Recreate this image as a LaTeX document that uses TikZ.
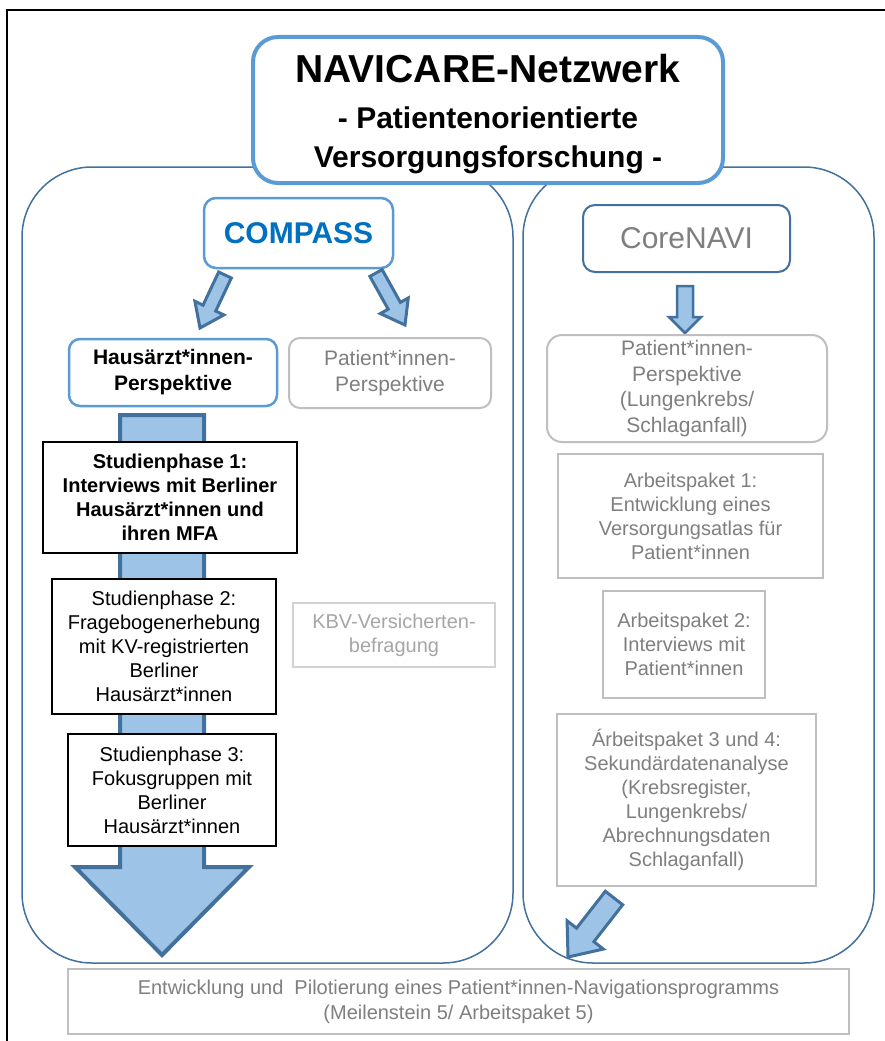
\documentclass[tikz,border=0pt]{standalone}
\usepackage{fontspec}
\setmainfont{Liberation Sans}
\usetikzlibrary{calc}
\definecolor{tblue}{HTML}{5B9BD5}
\definecolor{dblue}{HTML}{41719C}
\definecolor{lblue}{HTML}{9DC3E6}
\definecolor{cblue}{HTML}{0070C0}
\definecolor{lgray}{HTML}{BFBFBF}
\definecolor{tgray}{HTML}{7F7F7F}
\definecolor{kgray}{HTML}{A6A6A6}
\newcommand{\blockarr}[6][2.5pt]{%
  \coordinate (#2-h) at ($(#3)!#6!(#2)$);
  \draw[line width=#1, draw=dblue, fill=lblue, line join=miter]
    ($(#2)!#4!90:(#3)$) -- ($(#2-h)!#4!-90:(#2)$) -- ($(#2-h)!#5!-90:(#2)$) -- (#3)
    -- ($(#2-h)!#5!90:(#2)$) -- ($(#2-h)!#4!90:(#2)$) -- ($(#2)!#4!-90:(#3)$) -- cycle;}
\tikzset{
  box/.style={draw, inner sep=0pt, align=center, fill=white},
  container/.style={box, draw=dblue, line width=1.5pt, rounded corners=70pt, fill=none},
  bluebox/.style={box, draw=tblue, line width=2.5pt, rounded corners=11pt},
  graybox/.style={box, draw=lgray, line width=2pt, text=tgray},
  blackbox/.style={box, draw=black, line width=2pt},
  txt20/.style={font=\fontsize{20}{24}\selectfont},
  txt21/.style={font=\fontsize{21}{26}\selectfont},
}
\begin{document}
\begin{tikzpicture}[x=1pt,y=-1pt]
\useasboundingbox (0,0) rectangle (885,1041);
\fill[white] (0,0) rectangle (885,1041);
% outer frame
\draw[line width=2.5pt] (7,1041) -- (7,10) -- (885,10);
% containers
\node[container, minimum width=491pt, minimum height=796pt] (leftc) at (267.5,565) {};
\node[container, minimum width=351pt, minimum height=796pt] (rightc) at (698.5,565) {};
% title
\node[box, draw=tblue, line width=4pt, rounded corners=25pt, minimum width=470pt, minimum height=146pt,
      font=\bfseries\fontsize{30}{39}\selectfont] (title) at (488,110)
  {\rule{0pt}{37pt}{\fontsize{39}{39}\selectfont NAVICARE-Netzwerk}\\[7pt] - Patientenorientierte\\ Versorgungsforschung -};
% COMPASS side
\node[bluebox, rounded corners=12pt, minimum width=189pt, minimum height=70pt, text=cblue,
      font=\bfseries\fontsize{30}{36}\selectfont] (compass) at (298.5,233) {COMPASS};
\node[bluebox, minimum width=208pt, minimum height=67pt, txt21, font=\bfseries\fontsize{21}{26}\selectfont]
  (haus) at (173,372.5) {Hausärzt*innen-\\Perspektive};
\node[graybox, rounded corners=11pt, minimum width=202pt, minimum height=70pt, txt21, text=tgray]
  (patl) at (390,373) {Patient*innen-\\Perspektive};
% arrows from COMPASS
\coordinate (ca1) at (225,275); \coordinate (ca1t) at (200,328);
\coordinate (ca2) at (376,273); \coordinate (ca2t) at (405,325);
\blockarr[3pt]{ca1}{ca1t}{7pt}{16pt}{22pt}
\blockarr[3pt]{ca2}{ca2t}{7pt}{16pt}{22pt}
% big arrow
\coordinate (big) at (162,415); \coordinate (bigt) at (162,955);
\blockarr[4pt]{big}{bigt}{42pt}{87pt}{88pt}
% study phases
\node[blackbox, line width=2.5pt, minimum width=254pt, minimum height=111pt,
      font=\bfseries\fontsize{20}{24}\selectfont] (sp1) at (170,497.5)
  {Studienphase 1:\\Interviews mit Berliner\\Hausärzt*innen und\\ihren MFA};
\node[blackbox, minimum width=224pt, minimum height=135pt, txt20] (sp2) at (164,646.5)
  {Studienphase 2:\\Fragebogenerhebung\\mit KV-registrierten\\Berliner\\Hausärzt*innen};
\node[blackbox, minimum width=208pt, minimum height=112pt, txt20] (sp3) at (172,790)
  {Studienphase 3:\\Fokusgruppen mit\\Berliner\\Hausärzt*innen};
\node[graybox, draw=lgray!70, line width=1.5pt, minimum width=202pt, minimum height=64pt, txt20, text=kgray]
  (kbv) at (394,635) {KBV-Versicherten-\\befragung};
% CoreNAVI side
\node[box, draw=dblue, line width=2pt, rounded corners=12pt, minimum width=207pt, minimum height=67pt,
      text=tgray, font=\fontsize{30}{36}\selectfont] (core) at (686.5,238.5) {CoreNAVI};
\coordinate (cn) at (685,286); \coordinate (cnt) at (685,333);
\blockarr{cn}{cnt}{8pt}{16pt}{16pt}
\node[graybox, rounded corners=15pt, minimum width=280pt, minimum height=107pt,
      font=\fontsize{21}{25.5}\selectfont] (patr) at (687,388.5)
  {Patient*innen-\\Perspektive\\(Lungenkrebs/\\Schlaganfall)};
\node[graybox, minimum width=265pt, minimum height=124pt, txt20] (ap1) at (690.5,516)
  {Arbeitspaket 1:\\Entwicklung eines\\Versorgungsatlas für\\Patient*innen};
\node[graybox, minimum width=162pt, minimum height=107pt, txt20] (ap2) at (684,644.5)
  {Arbeitspaket 2:\\Interviews mit\\Patient*innen};
\node[graybox, minimum width=259pt, minimum height=172pt, txt20] (ap3) at (686.5,800)
  {Árbeitspaket 3 und 4:\\Sekundärdatenanalyse\\(Krebsregister,\\Lungenkrebs/\\Abrechnungsdaten\\Schlaganfall)};
\coordinate (br) at (614,898); \coordinate (brt) at (568,957);
\blockarr[3pt]{br}{brt}{11pt}{23pt}{28pt}
% bottom box
\node[graybox, minimum width=781pt, minimum height=65pt, font=\fontsize{20}{25}\selectfont] (bottom) at (458.5,1001.5)
  {Entwicklung und\ \ Pilotierung eines Patient*innen-Navigationsprogramms\\(Meilenstein 5/ Arbeitspaket 5)};
\end{tikzpicture}
\end{document}
